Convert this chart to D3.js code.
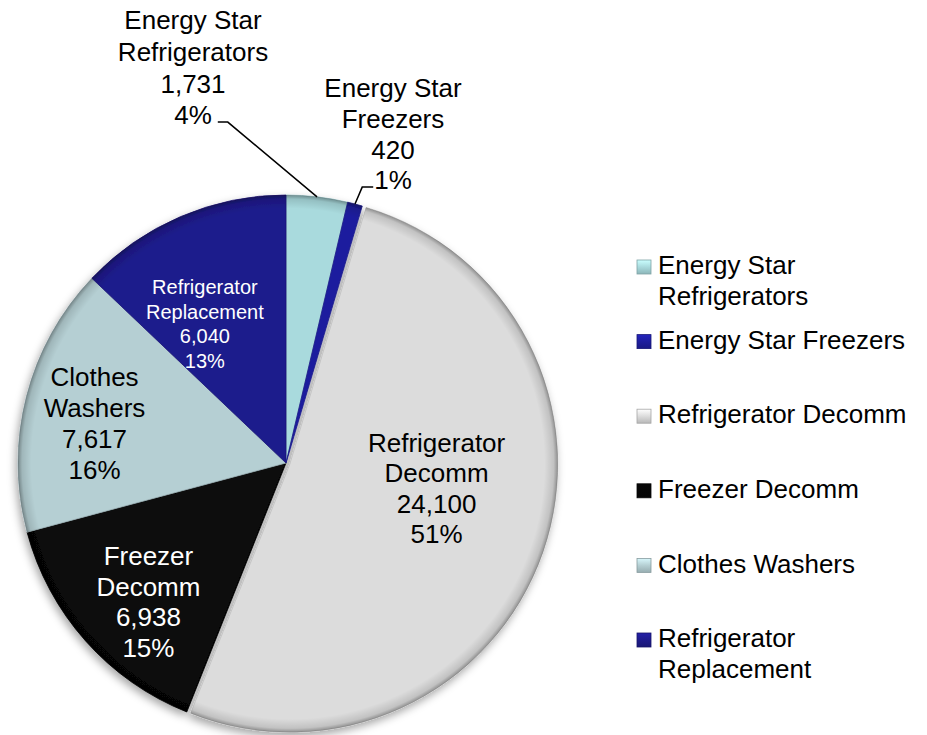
<!DOCTYPE html>
<html>
<head>
<meta charset="utf-8">
<script src="https://cdn.jsdelivr.net/npm/d3@7"></script>
<style>
  html, body { margin: 0; padding: 0; background: #fff; }
  svg { display: block; font-family: "Liberation Sans", Arial, Helvetica, sans-serif; }
</style>
</head>
<body>
<svg id="chart" width="927" height="735"></svg>
<script>
// ---- data ----
const categories = ["Energy Star Refrigerators", "Energy Star Freezers", "Refrigerator Decomm",
                    "Freezer Decomm", "Clothes Washers", "Refrigerator Replacement"];
const values = [1731, 420, 24100, 6938, 7617, 6040];
const labelNameLines = [["Energy Star", "Refrigerators"], ["Energy Star", "Freezers"],
                        ["Refrigerator", "Decomm"], ["Freezer", "Decomm"],
                        ["Clothes", "Washers"], ["Refrigerator", "Replacement"]];

// ---- style / layout ----
const colors = ["#a9dadd", "#1e1e9e", "#dcdcdc", "#070707", "#b5cfd3", "#1e1b8c"];
const labelColors = ["#000", "#000", "#000", "#fff", "#000", "#fff"];
const W = 927, H = 735;
const cx = 286, cy = 463, R = 268;
const explode = [0, 0, 4, 0, 0, 0];
// inside label placement: angle shift (deg) from slice middle, radius fraction, font size, line step
const insideLayout = {
  2: {shift: -9.5, rf: 0.57, fs: 26, step: 30.5},
  3: {shift: -3.7, rf: 0.73, fs: 26, step: 30.5},
  4: {shift: -2.5, rf: 0.73, fs: 26, step: 31},
  5: {shift: -7.1, rf: 0.60, fs: 20, step: 24.5}
};
// outside label blocks: centre x, first line centre y, leader side
const outsideLayout = {
  0: {x: 193, y0: 20, step: 31.7, side: "right"},
  1: {x: 393, y0: 88, step: 30.7, side: "left"}
};

const svg = d3.select("#chart");
const defs = svg.append("defs");

const shadow = defs.append("filter").attr("id", "shadow")
  .attr("x", "-20%").attr("y", "-20%").attr("width", "140%").attr("height", "140%");
shadow.append("feDropShadow").attr("dx", -2).attr("dy", 4).attr("stdDeviation", 4)
  .attr("flood-color", "#000").attr("flood-opacity", 0.35);

const bevel = defs.append("radialGradient").attr("id", "bevel")
  .attr("gradientUnits", "userSpaceOnUse").attr("cx", 0).attr("cy", 0).attr("r", R);
[[0, 0.0, "#000"], [0.95, 0.0, "#000"], [0.985, 0.12, "#000"], [1, 0.35, "#000"]]
  .forEach(([o, op, c]) => bevel.append("stop").attr("offset", o).attr("stop-color", c).attr("stop-opacity", op));

const total = d3.sum(values);
const fmtNum = d3.format(",");
const fmtPct = d3.format(".0%");

const pie = d3.pie().sort(null).value(d => d)(values);
const arc = d3.arc().innerRadius(0).outerRadius(R);

const g = svg.append("g").attr("transform", `translate(${cx},${cy})`);
const slicesG = g.append("g").attr("filter", "url(#shadow)");

pie.forEach((d, i) => {
  const mid = (d.startAngle + d.endAngle) / 2;
  const ox = Math.sin(mid) * explode[i], oy = -Math.cos(mid) * explode[i];
  const sg = slicesG.append("g").attr("transform", `translate(${ox},${oy})`);
  sg.append("path").attr("d", arc(d)).attr("fill", colors[i])
    .attr("stroke", d3.color(colors[i]).darker(0.4)).attr("stroke-width", 0.8);
  sg.append("path").attr("d", arc(d)).attr("fill", "url(#bevel)");
});

function lines(i) {
  return labelNameLines[i].concat([fmtNum(values[i]), fmtPct(values[i] / total)]);
}

// inside labels
Object.keys(insideLayout).forEach(k => {
  const i = +k, L = insideLayout[k], d = pie[i];
  const a = (d.startAngle + d.endAngle) / 2 + L.shift * Math.PI / 180;
  const x = Math.sin(a) * R * L.rf, y = -Math.cos(a) * R * L.rf;
  const ls = lines(i);
  const t = g.append("text").attr("text-anchor", "middle").attr("fill", labelColors[i])
    .attr("font-size", L.fs);
  ls.forEach((s, j) => {
    t.append("tspan").attr("x", x).attr("y", y + (j - (ls.length - 1) / 2) * L.step)
      .attr("dy", "0.35em").text(s);
  });
});

// outside labels with leader lines
Object.keys(outsideLayout).forEach(k => {
  const i = +k, L = outsideLayout[k], d = pie[i];
  const ls = lines(i);
  const t = svg.append("text").attr("text-anchor", "middle").attr("fill", "#000").attr("font-size", 26);
  let last;
  ls.forEach((s, j) => {
    last = t.append("tspan").attr("x", L.x).attr("y", L.y0 + j * L.step).attr("dy", "0.35em").text(s);
  });
  const w = last.node().getComputedTextLength();
  const yl = L.y0 + (ls.length - 1) * L.step + 7;
  const mid = (d.startAngle + d.endAngle) / 2;
  const px = cx + Math.sin(mid) * R, py = cy - Math.cos(mid) * R;
  let sx, ex;
  if (L.side === "right") { sx = L.x + w / 2 + 6; ex = sx + 10; }
  else { sx = L.x - w / 2 - 1; ex = sx - 11; }
  svg.append("polyline")
    .attr("points", [[sx, yl], [ex, yl], [px, py]].map(p => p.join(",")).join(" "))
    .attr("fill", "none").attr("stroke", "#000").attr("stroke-width", 1.5);
});

// legend
const legend = svg.append("g");
const legX = 637, legTextX = 658, legY0 = 265, legStep = 74.6, maxW = 262;
categories.forEach((c, i) => {
  const y = legY0 + i * legStep;
  const col = d3.color(colors[i]);
  const lg = defs.append("linearGradient").attr("id", "lg" + i).attr("x1", 0).attr("y1", 0).attr("x2", 0).attr("y2", 1);
  lg.append("stop").attr("offset", 0).attr("stop-color", col.brighter(0.5));
  lg.append("stop").attr("offset", 0.5).attr("stop-color", colors[i]);
  lg.append("stop").attr("offset", 1).attr("stop-color", col.darker(0.5));
  legend.append("rect").attr("x", legX).attr("y", y + 2 - 7).attr("width", 14).attr("height", 14)
    .attr("fill", `url(#lg${i})`).attr("stroke", col.darker(0.8)).attr("stroke-width", 0.8);
  const t = legend.append("text").attr("font-size", 26).attr("fill", "#000");
  // word wrap
  const words = c.split(" ");
  let line = [], lineNo = 0;
  let ts = t.append("tspan").attr("x", legTextX).attr("y", y).attr("dy", "0.35em");
  words.forEach(wd => {
    line.push(wd);
    ts.text(line.join(" "));
    if (ts.node().getComputedTextLength() > maxW && line.length > 1) {
      line.pop();
      ts.text(line.join(" "));
      line = [wd];
      lineNo++;
      ts = t.append("tspan").attr("x", legTextX).attr("y", y + lineNo * 31).attr("dy", "0.35em").text(wd);
    }
  });
});
</script>
</body>
</html>
